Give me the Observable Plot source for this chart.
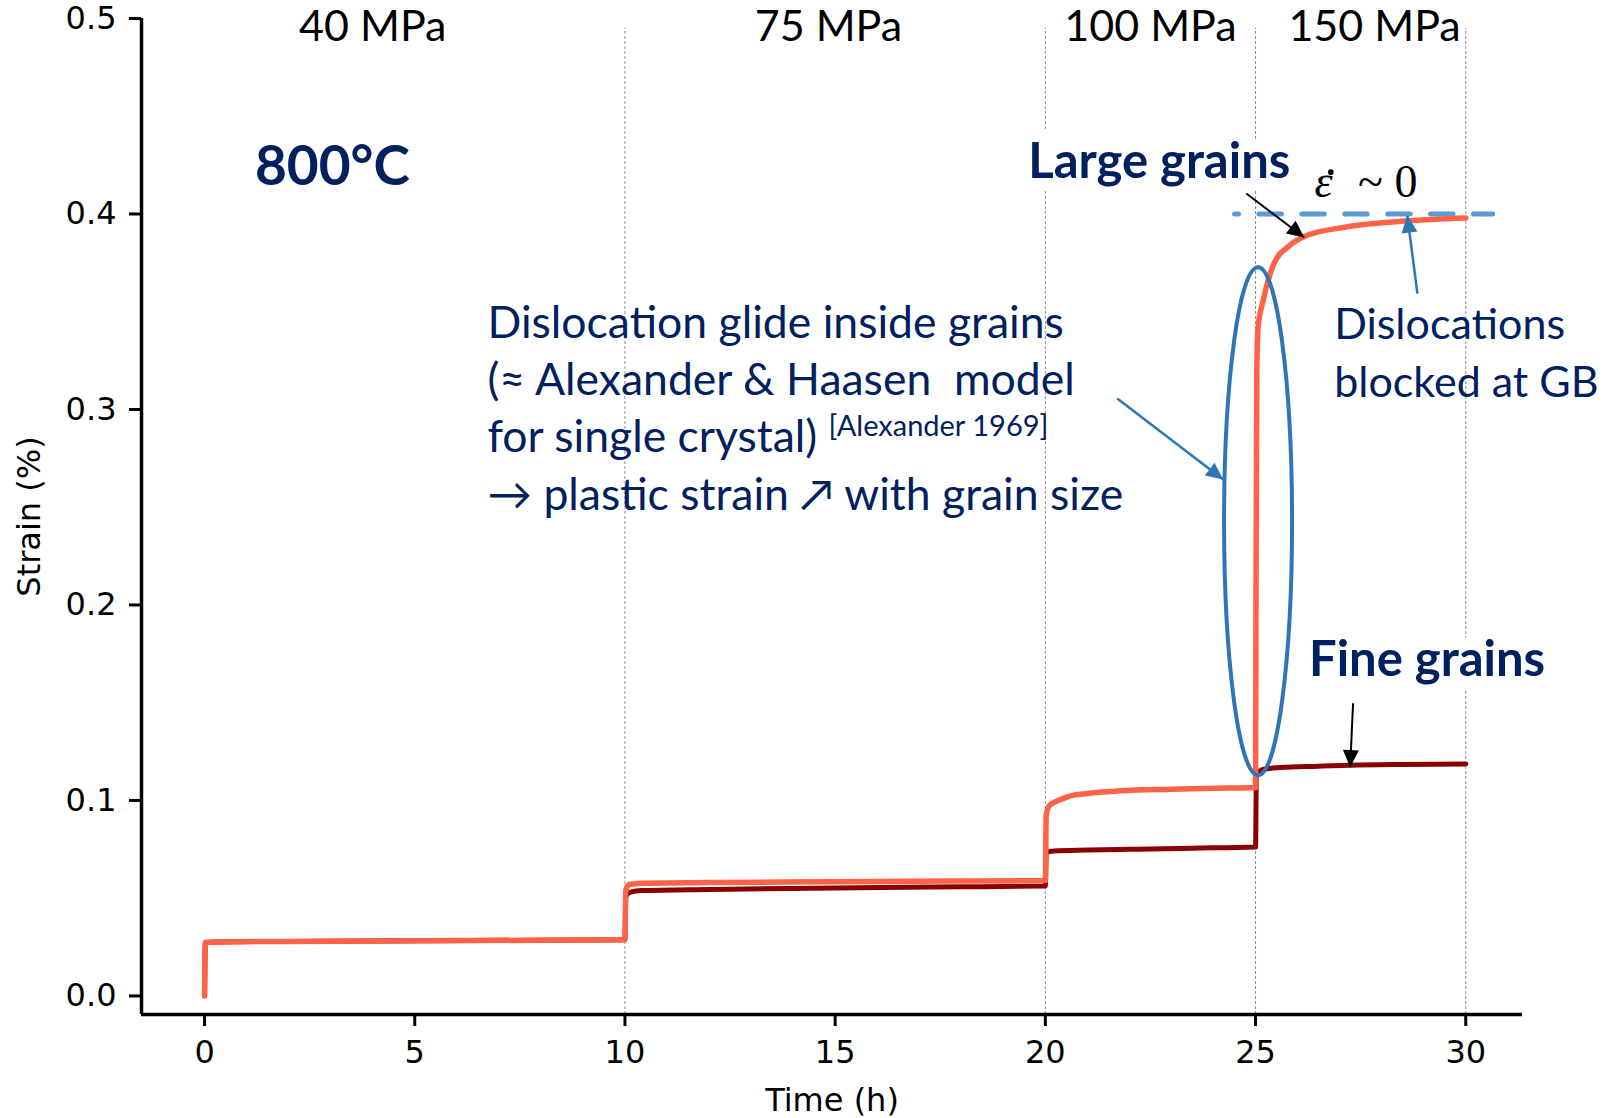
<!DOCTYPE html>
<html>
<head>
<meta charset="utf-8">
<script src="https://cdn.jsdelivr.net/npm/d3@7"></script>
<script src="https://cdn.jsdelivr.net/npm/@observablehq/plot@0.6"></script>
<style>
  html, body { margin: 0; padding: 0; background: #ffffff; }
  #chart svg { display: block; }
</style>
</head>
<body>
<div id="chart"></div>
<script>
// ---------------- data ----------------
const timeLarge = [0, 0.02, 0.3, 2, 5, 8, 10, 10.02, 10.1, 10.4, 12, 15, 18, 20,
  20.02, 20.08, 20.2, 20.4, 20.6, 21, 21.8, 23, 24, 25,
  25.01, 25.03, 25.06, 25.18, 25.43, 25.8, 26.16, 27.15, 28.63, 30];
const strainLarge = [0, 0.0273, 0.0276, 0.0279, 0.0282, 0.0285, 0.0288, 0.054, 0.0570, 0.0577, 0.0580, 0.0584, 0.0588, 0.0590,
  0.092, 0.097, 0.0989, 0.1008, 0.1023, 0.1035, 0.1049, 0.1057, 0.1062, 0.1066,
  0.20, 0.32, 0.342, 0.3556, 0.3742, 0.3837, 0.3885, 0.3933, 0.3965, 0.398];

const timeFine = [0, 0.02, 0.3, 2, 5, 8, 10, 10.02, 10.15, 10.4, 12, 15, 18, 20,
  20.02, 20.2, 21, 22, 23.5, 25, 25.02, 25.2, 25.6, 26.5, 27.25, 28.5, 30];
const strainFine = [0, 0.0273, 0.0276, 0.0279, 0.0282, 0.0285, 0.0288, 0.051, 0.0532, 0.0539, 0.0545, 0.0552, 0.0558, 0.0562,
  0.0735, 0.0742, 0.0746, 0.0750, 0.0756, 0.0762, 0.1135, 0.1160, 0.1168, 0.1175, 0.1180, 0.1184, 0.1187];

const stageBoundaries = [10, 20, 25, 30];
const stressLabels = ["40 MPa", "75 MPa", "100 MPa", "150 MPa"];
const stressLabelTime = [4.0, 14.84, 22.5, 27.83];
const stressLabelStrain = 0.4887;

const xTicks = [0, 5, 10, 15, 20, 25, 30];
const yTicks = [0, 0.1, 0.2, 0.3, 0.4, 0.5];
const xLabel = "Time (h)";
const yLabel = "Strain (%)";

// steady-state level (dashed)
const plateauStrain = 0.4;
const plateauTime = [24.5, 30.64];

// annotations (data units)
const tempLabel = {text: "800°C", t: 3.04, s: 0.4146};
const grainLabels = [
  {text: "Large grains", t: 22.71, s: 0.4185},
  {text: "Fine grains", t: 29.08, s: 0.1639}
];
const gbLines = ["Dislocations", "blocked at GB"];
const gbLineStrain = [0.3361, 0.3063];
const gbLineTime = 26.87;
const glideLines = [
  "Dislocation glide inside grains",
  "(≈ Alexander & Haasen  model",
  "for single crystal)",
  "→ plastic strain ↗ with grain size"
];
const glideLineStrain = [0.3368, 0.3074, 0.2780, 0.2486];
const glideLineTime = 6.73;
const citation = {text: "[Alexander 1969]", t: 14.84, s: 0.2862};
const rateSymbol = {text: "ε", t: 26.4, s: 0.4086};
const rateDot = {t: 26.79, s: 0.4214};
const rateValue = {text: "~ 0", t: 28.85, s: 0.4086};

const blackArrows = [
  {t1: 24.78, s1: 0.4105, t2: 26.16, s2: 0.388},
  {t1: 27.32, s1: 0.1497, t2: 27.25, s2: 0.117}
];
const blueArrows = [
  {t1: 21.71, s1: 0.3056, t2: 24.23, s2: 0.2642},
  {t1: 28.85, s1: 0.3593, t2: 28.61, s2: 0.3992}
];
const highlight = {t: 25.06, s: 0.2428};

// ---------------- layout ----------------
const W = 1623, H = 1118;
const ML = 141, MR = 101, MT = 18, MB = 104;
const X0 = -1.5, X1 = 31.35, Y0 = -0.0095, Y1 = 0.5;
const sx = d3.scaleLinear([X0, X1], [ML, W - MR]);
const sy = d3.scaleLinear([Y0, Y1], [H - MB, MT]);

const ORANGE = "#FF6347", DARKRED = "#8B0000", NAVY = "#002060", BLUE = "#2E75B6", LIGHTBLUE = "#5B9BD5";

const large = timeLarge.map((t, i) => ({t, s: strainLarge[i]}));
const fine = timeFine.map((t, i) => ({t, s: strainFine[i]}));

const headSymbol = {
  draw(ctx) { ctx.moveTo(0, 0); ctx.lineTo(8, 17); ctx.lineTo(-8, 17); ctx.closePath(); }
};
const ellipseSymbol = {
  draw(ctx) {
    const rx = 34, ry = 254, k = 0.5523;
    ctx.moveTo(rx, 0);
    ctx.bezierCurveTo(rx, ry * k, rx * k, ry, 0, ry);
    ctx.bezierCurveTo(-rx * k, ry, -rx, ry * k, -rx, 0);
    ctx.bezierCurveTo(-rx, -ry * k, -rx * k, -ry, 0, -ry);
    ctx.bezierCurveTo(rx * k, -ry, rx, -ry * k, rx, 0);
    ctx.closePath();
  }
};
const headAngle = (a) => {
  const dx = sx(a.t2) - sx(a.t1), dy = sy(a.s2) - sy(a.s1);
  return Math.atan2(dx, -dy) * 180 / Math.PI;
};

const arrowMarks = (arr, color, sw) => [
  Plot.link(arr, {x1: "t1", y1: "s1", x2: "t2", y2: "s2", stroke: color, strokeWidth: sw}),
  Plot.dot(arr, {x: "t2", y: "s2", symbol: headSymbol, rotate: headAngle, fill: color, stroke: "none", r: 5})
];

const chart = Plot.plot({
  width: W, height: H,
  marginLeft: ML, marginRight: MR, marginTop: MT, marginBottom: MB,
  x: {domain: [X0, X1], axis: null},
  y: {domain: [Y0, Y1], axis: null},
  style: {fontFamily: "DejaVu Sans", background: "#ffffff", color: "#000", overflow: "visible"},
  marks: [
    // stage boundaries
    Plot.ruleX(stageBoundaries, {y1: Y0, y2: 0.495, stroke: "#8c8c8c", strokeWidth: 1, strokeDasharray: "3,2"}),
    // steady-state dashed level
    Plot.line(plateauTime.map(t => ({t, s: plateauStrain})), {x: "t", y: "s", stroke: LIGHTBLUE, strokeWidth: 5,
      strokeDasharray: "22.5,20.4", strokeDashoffset: 18.5}),
    // curves
    Plot.line(fine, {x: "t", y: "s", stroke: DARKRED, strokeWidth: 5, strokeLinejoin: "round", curve: "monotone-x"}),
    Plot.line(large, {x: "t", y: "s", stroke: ORANGE, strokeWidth: 5.5, strokeLinejoin: "round", curve: "monotone-x"}),
    // axes
    Plot.axisX({ticks: xTicks, tickSize: 12, tickPadding: 14, fontSize: 32, strokeWidth: 3, tickFormat: d3.format("d")}),
    Plot.axisY({ticks: yTicks, tickSize: 12, tickPadding: 13, fontSize: 32, strokeWidth: 3, tickFormat: d3.format(".1f")}),
    Plot.ruleY([Y0], {strokeWidth: 3.5}),
    Plot.ruleX([X0], {strokeWidth: 3.5}),
    Plot.text([xLabel], {frameAnchor: "bottom", dy: 86, fontSize: 32, lineAnchor: "middle", textAnchor: "middle"}),
    Plot.text([yLabel], {frameAnchor: "left", dx: -112, rotate: -90, fontSize: 32, lineAnchor: "middle", textAnchor: "middle"}),
    // stress labels
    Plot.text(stressLabels, {x: (d, i) => stressLabelTime[i], y: stressLabelStrain, text: d => d,
      fontFamily: "Lato", fontSize: 43, textAnchor: "middle", lineAnchor: "bottom", fill: "#000"}),
    // temperature
    Plot.text([tempLabel], {x: "t", y: "s", text: "text", fontFamily: "Lato", fontWeight: "bold", fontSize: 55,
      fill: NAVY, textAnchor: "middle", lineAnchor: "bottom"}),
    // grain labels (with white box)
    Plot.text(grainLabels, {x: "t", y: "s", text: "text", fontFamily: "Lato", fontWeight: "bold", fontSize: 49,
      fill: NAVY, textAnchor: "middle", lineAnchor: "bottom", stroke: "#ffffff", strokeWidth: 26, paintOrder: "stroke"}),
    // GB annotation
    Plot.text(gbLines, {x: gbLineTime, y: (d, i) => gbLineStrain[i], text: d => d, fontFamily: "Lato", fontSize: 43,
      fill: NAVY, textAnchor: "start", lineAnchor: "bottom"}),
    // glide annotation
    Plot.text(glideLines, {x: glideLineTime, y: (d, i) => glideLineStrain[i], text: d => d, fontFamily: "Lato", fontSize: 44.5,
      fill: NAVY, textAnchor: "start", lineAnchor: "bottom"}),
    Plot.text([citation], {x: "t", y: "s", text: "text", fontFamily: "Lato", fontSize: 29,
      fill: NAVY, textAnchor: "start", lineAnchor: "bottom"}),
    // strain rate
    Plot.text([rateSymbol], {x: "t", y: "s", text: "text", fontFamily: "Liberation Serif", fontStyle: "italic", fontSize: 46,
      fill: "#000", textAnchor: "start", lineAnchor: "bottom"}),
    Plot.dot([rateDot], {x: "t", y: "s", r: 2.8, fill: "#000", stroke: "none"}),
    Plot.text([rateValue], {x: "t", y: "s", text: "text", fontFamily: "Liberation Serif", fontSize: 46,
      fill: "#000", textAnchor: "end", lineAnchor: "bottom"}),
    // highlight ellipse
    Plot.dot([highlight], {x: "t", y: "s", symbol: ellipseSymbol, fill: "none", stroke: BLUE, strokeWidth: 4, r: 5}),
    // arrows
    ...arrowMarks(blackArrows, "#000000", 2),
    ...arrowMarks(blueArrows, BLUE, 2.5)
  ]
});
document.getElementById("chart").appendChild(chart);
</script>
</body>
</html>
